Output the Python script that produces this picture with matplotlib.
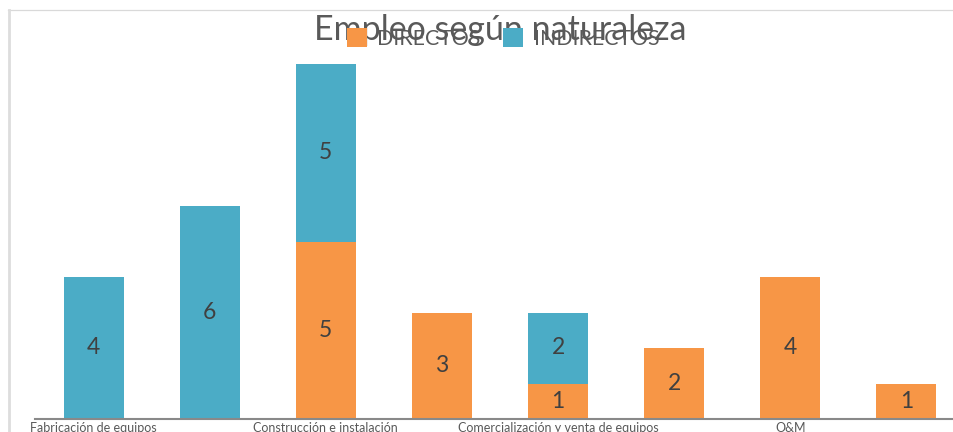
import matplotlib
matplotlib.use("Agg")
import matplotlib.pyplot as plt
from matplotlib.lines import Line2D
import numpy as np

categories = ["Fabricación de equipos", "", "Construcción e instalación", "",
              "Comercialización y venta de equipos", "", "O&M", ""]
directos = [0, 0, 5, 3, 1, 2, 4, 1]
indirectos = [4, 6, 5, 0, 2, 0, 0, 0]
series_names = ["DIRECTOS", "INDIRECTOS"]
title = "Empleo según naturaleza"

C_DIR = "#F79646"
C_IND = "#4BACC6"
TXT = "#595959"
LBL = "#404040"

plt.rcParams['font.family'] = ['Lato', 'DejaVu Sans']

W, H = 954, 432
fig = plt.figure(figsize=(W / 100, H / 100), dpi=100)
ax_left, ax_right = 35, 954
ax_base, ax_top = 419, 9
ax = fig.add_axes([ax_left / W, (H - ax_base) / H, (ax_right - ax_left) / W, (ax_base - ax_top) / H])

x = np.arange(len(categories))
bw = 0.517
b1 = ax.bar(x, directos, bw, color=C_DIR, label=series_names[0])
b2 = ax.bar(x, indirectos, bw, bottom=directos, color=C_IND, label=series_names[1])
ax.bar_label(b1, labels=[str(v) if v else "" for v in directos], label_type='center',
             fontsize=16.5, color=LBL)
ax.bar_label(b2, labels=[str(v) if v else "" for v in indirectos], label_type='center',
             fontsize=16.5, color=LBL)

px_per_unit = 35.5
ax.set_ylim(0, (ax_base - ax_top) / px_per_unit)
ax.set_xlim(-0.504, 7.41)
ax.set_xticks(x)
ax.set_xticklabels(categories, fontsize=9, color=TXT)
ax.tick_params(axis='x', length=0, pad=2)
ax.set_yticks([])
for s in ['top', 'right', 'left']:
    ax.spines[s].set_visible(False)
ax.spines['bottom'].set_color('#898989')
ax.spines['bottom'].set_linewidth(1.5)

# chart area border remnants (top and left)
fig.add_artist(Line2D([8 / W, 1], [1 - 9.5 / H, 1 - 9.5 / H], color='#D9D9D9', lw=0.9))
fig.add_artist(Line2D([9 / W, 9 / W], [0, 1 - 9.5 / H], color='#DDDDDD', lw=2.0))

fig.text(500 / W, 1 - 40 / H, title, ha='center', va='baseline', fontsize=24.5, color=TXT)

leg = fig.legend(handles=[b1, b2], labels=series_names, loc='center', ncol=2,
                 bbox_to_anchor=(503 / W, 1 - 38.5 / H), frameon=False, fontsize=15.3,
                 handlelength=0.95, handleheight=0.95, handletextpad=0.5, columnspacing=1.05,
                 labelcolor=TXT, borderpad=0)

fig.savefig("out.png", dpi=100)
